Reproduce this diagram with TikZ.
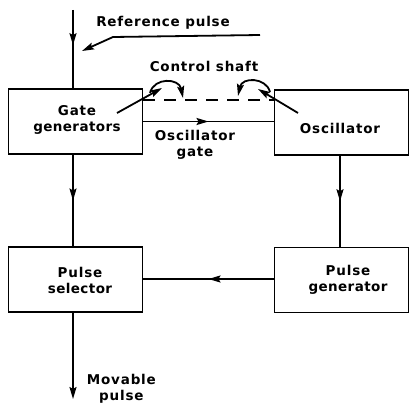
\documentclass[tikz,border=0pt]{standalone}
\usepackage{fontspec}
\setmainfont{DejaVu Sans Bold}[LetterSpace=6]
\newfontfamily\narrowf{DejaVu Sans Bold}[LetterSpace=3]
\usetikzlibrary{arrows.meta,decorations.markings}
\begin{document}
\begin{tikzpicture}[x=1pt,y=-1pt,line width=1.8pt,
  box/.style={draw,minimum width=134pt,minimum height=65pt,inner sep=0pt},
  lbl/.style={font=\fontsize{13.5}{16}\selectfont,align=center,inner sep=0pt},
  tip/.style={-{Stealth[length=12pt,width=7pt,inset=2pt]}},
  midarrow/.style={postaction={decorate},decoration={markings,
     mark=at position #1 with {\arrow{Stealth[length=12pt,width=7pt,inset=2pt]}}}},
  shaft/.style={dash pattern=on 12pt off 9pt}
]
\useasboundingbox (0,0) rectangle (409,404);
% boxes
\node[box] (gate) at (75.5,121.5) {};
\node[box] (osc)  at (341.5,122.5) {};
\node[box] (sel)  at (75.5,279.5) {};
\node[box] (pgen) at (341.5,280) {};
% labels
\node[lbl] (tgate) at (77,120) {Gate\\{\narrowf generators}};
\node[lbl] (tosc)  at (340,128) {Oscillator};
\node[lbl] (tsel)  at (80,280) {Pulse\\{\narrowf selector}};
\node[lbl] (tpgen) at (348,280) {Pulse\\{\narrowf generator}};
\node[lbl] (tref)  at (163,23) {Reference pulse};
\node[lbl] (tshaft) at (204,66) {Control shaft};
\node[lbl] (togate) at (195,145) {Oscillator\\gate};
\node[lbl,anchor=north west] (tmov) at (86,373) {Movable\\pulse};
% coordinates
\coordinate (in) at (73,10);
\coordinate (out) at (73,399);
\coordinate (dl) at (143,100);
\coordinate (dr) at (275,100);
\coordinate (r0) at (260,35);
\coordinate (r1) at (113,37);
\coordinate (r2) at (82,51);
\coordinate (la0) at (150,93);
\coordinate (la1) at (183,98);
\coordinate (ra0) at (270,92);
\coordinate (ra1) at (238,96);
\coordinate (ll0) at (117,113);
\coordinate (ll1) at (162,88);
\coordinate (rl0) at (298,113);
\coordinate (rl1) at (258,89);
% connectors
\draw[midarrow=0.45] (in) -- (in |- gate.north);
\draw[midarrow=0.5] (gate.south -| in) -- (sel.north -| in);
\draw[midarrow=0.5] (osc.south -| 340,0) -- (pgen.north -| 340,0);
\draw[midarrow=0.5] (pgen.west |- 0,279) -- (sel.east |- 0,279);
\draw[midarrow=0.5] (gate.east) -- (gate.east -| osc.west);
\draw[tip] (sel.south -| in) -- (out);
\draw[shaft] (dl) -- (dr);
% reference pulse leader
\draw[tip] (r0) -- (r1) -- (r2);
% control shaft arcs
\draw[tip] (la0) .. controls (154,77) and (179,78) .. (la1);
\draw[tip] (ra0) .. controls (266,77) and (242,77) .. (ra1);
\draw[tip] (ll0) -- (ll1);
\draw[tip] (rl0) -- (rl1);
\end{tikzpicture}
\end{document}
